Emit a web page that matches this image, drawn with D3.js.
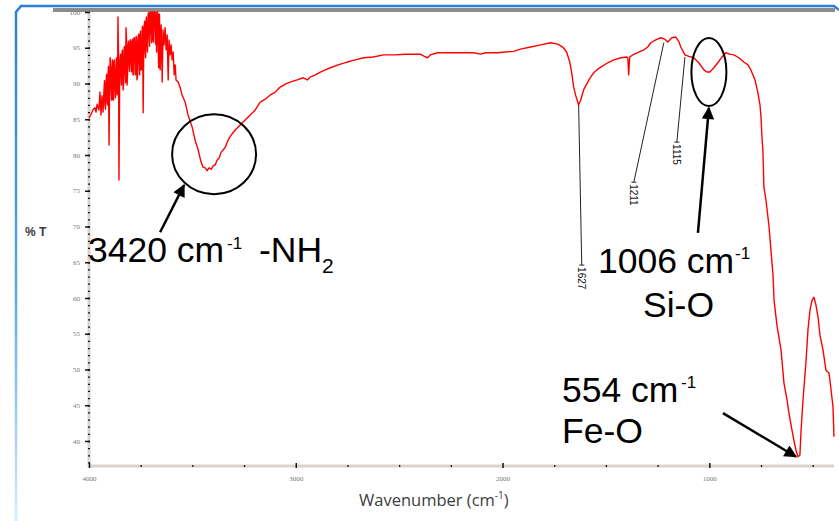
<!DOCTYPE html>
<html>
<head>
<meta charset="utf-8">
<script src="https://cdn.jsdelivr.net/npm/d3@7"></script>
<style>
  body { margin: 0; background: #fff; }
  svg { display: block; }
  .axis text { font-family: "Liberation Serif", serif; font-size: 7px; fill: #777; }
  .note { font-family: "Liberation Sans", Arial, sans-serif; fill: #000; }
</style>
</head>
<body>
<div id="chart"></div>
<script>
const W = 839, H = 521;

// FTIR scan: wavenumber (cm-1) and %T
const wavenumber = [
  4000, 3990, 3981, 3971, 3966, 3961, 3952, 3947, 3942, 3937,
  3932, 3927, 3925, 3923, 3920, 3918, 3915, 3913, 3910, 3908,
  3906, 3903, 3901, 3898, 3896, 3893, 3891, 3889, 3886, 3884,
  3881, 3879, 3877, 3874, 3872, 3869, 3867, 3864, 3862, 3860,
  3857, 3855, 3852, 3850, 3847, 3845, 3843, 3840, 3838, 3835,
  3833, 3830, 3828, 3826, 3823, 3821, 3818, 3816, 3814, 3811,
  3809, 3806, 3804, 3801, 3799, 3797, 3794, 3792, 3789, 3787,
  3784, 3782, 3780, 3777, 3775, 3772, 3770, 3768, 3765, 3763,
  3760, 3758, 3755, 3753, 3751, 3748, 3746, 3743, 3741, 3738,
  3736, 3734, 3731, 3729, 3726, 3724, 3722, 3719, 3717, 3714,
  3712, 3709, 3707, 3705, 3702, 3700, 3697, 3695, 3692, 3690,
  3688, 3685, 3683, 3680, 3678, 3676, 3673, 3671, 3668, 3666,
  3663, 3661, 3659, 3656, 3651, 3646, 3642, 3637, 3632, 3627,
  3622, 3617, 3613, 3608, 3603, 3598, 3593, 3588, 3583, 3579,
  3569, 3559, 3550, 3535, 3521, 3501,
  3487, 3472, 3458, 3448, 3438, 3429, 3419, 3409, 3399, 3390,
  3380, 3370, 3361, 3351, 3341, 3327, 3312, 3293, 3269, 3245,
  3220, 3196, 3172, 3148, 3123, 3099, 3075, 3051, 3027, 2993,
  2964, 2944, 2930, 2905, 2881, 2857, 2833, 2784, 2751, 2712,
  2673, 2625, 2576, 2518, 2470, 2431, 2397, 2378, 2363, 2349,
  2315, 2252, 2140, 2106, 2082, 2024, 1985, 1947, 1913, 1864,
  1816, 1767, 1733, 1709, 1690, 1675, 1666, 1656, 1646, 1632,
  1622, 1608, 1588, 1574, 1559, 1540, 1525, 1491, 1462, 1428,
  1399, 1394, 1390, 1385, 1370, 1341, 1317, 1298, 1283, 1259,
  1235, 1215, 1201, 1181, 1162, 1148, 1138, 1118, 1099, 1075,
  1051, 1026, 1012, 997, 978, 959, 939, 920, 901, 881,
  857, 833, 813, 799, 779, 765, 755, 750, 746, 741,
  736, 726, 712, 702, 692, 687, 673, 653, 639, 624,
  615, 600, 591, 581, 571, 562, 557, 547, 532, 523,
  513, 503, 494, 484, 474, 465, 450, 436, 421, 411,
  402, 397
];
const transmittance = [
  85.2, 85.7, 86.3, 86.6, 86.0, 87.1, 86.3, 88.8, 85.6, 88.3,
  86.0, 89.4, 90.4, 87.0, 86.4, 89.9, 91.3, 87.7, 87.0, 91.2,
  92.4, 81.4, 87.6, 93.6, 93.3, 89.1, 87.7, 91.9, 93.3, 87.7,
  87.7, 93.0, 93.3, 89.8, 88.0, 91.9, 93.6, 88.4, 88.8, 99.3,
  93.8, 76.5, 89.7, 93.3, 94.1, 91.2, 89.8, 94.4, 94.7, 89.1,
  89.8, 95.0, 95.2, 91.9, 90.1, 97.8, 95.7, 89.8, 90.9, 95.4,
  95.9, 92.6, 91.7, 96.1, 96.1, 93.3, 91.6, 95.8, 96.2, 91.2,
  91.3, 96.4, 96.4, 94.0, 91.2, 96.6, 96.5, 90.5, 91.2, 95.8,
  96.9, 93.3, 91.2, 96.8, 97.3, 91.9, 91.9, 97.5, 98.0, 85.9,
  92.7, 97.8, 98.7, 94.7, 93.6, 98.9, 99.3, 95.4, 94.4, 99.6,
  99.9, 96.8, 95.2, 100, 100, 97.5, 95.7, 100, 100, 96.1,
  95.8, 100, 100, 98.2, 95.5, 100, 94.4, 98.9, 100, 96.1,
  92.2, 99.7, 99.7, 91.9, 98.2, 90.2, 97.5, 95.4, 97.8, 94.7,
  96.8, 90.5, 96.1, 94.0, 95.4, 93.3, 94.4, 91.2, 92.6, 90.5,
  90.2, 89.4, 88.4, 87.4, 85.6, 83.9,
  82.1, 80.7, 79.0, 78.3, 78.2, 77.8, 78.2, 78.0, 78.5, 78.6,
  79.3, 79.6, 80.4, 80.7, 81.1, 82.1, 82.8, 83.5, 84.2, 84.9,
  85.6, 86.3, 87.4, 87.8, 88.4, 88.8, 89.5, 89.9, 90.2, 90.5,
  90.8, 90.5, 90.9, 91.2, 91.6, 91.9, 92.2, 92.7, 93.0, 93.3,
  93.6, 93.7, 94.0, 94.0, 94.1, 94.1, 94.1, 93.8, 93.6, 94.0,
  94.3, 94.3, 94.3, 94.1, 94.3, 94.3, 94.4, 94.5, 94.8, 95.1,
  95.4, 95.7, 95.5, 95.1, 94.4, 93.0, 91.6, 89.5, 88.3, 87.0,
  87.7, 89.1, 90.2, 90.9, 91.5, 92.0, 92.3, 92.9, 93.3, 93.6,
  93.7, 93.6, 91.2, 93.7, 94.0, 94.4, 94.7, 95.1, 95.7, 96.1,
  96.4, 96.2, 95.8, 96.4, 96.5, 95.9, 95.1, 94.0, 93.8, 93.6,
  92.9, 91.9, 91.6, 91.6, 92.2, 92.9, 93.7, 94.3, 94.1, 94.0,
  93.6, 93.0, 92.6, 91.9, 90.5, 88.7, 87.0, 85.3, 82.8, 80.7,
  75.5, 73.7, 70.2, 66.7, 63.2, 59.7, 56.2, 52.7, 48.1, 45.7,
  43.9, 41.5, 40.1, 38.7, 37.8, 38.0, 41.1, 45.7, 51.3, 55.5,
  58.3, 59.7, 60.1, 59.0, 57.3, 54.8, 52.7, 49.9, 49.5, 47.1,
  44.8, 40.6
];

const xTicks = [4000, 3000, 2000, 1000];
const xMinorTicks = [3750, 3500, 3250, 2750, 2500, 2250, 1750, 1500, 1250, 750, 500];
const yTicks = [100, 95, 90, 85, 80, 75, 70, 65, 60, 55, 50, 45, 40];

// instrument peak picks
const pickLabels = ["1627", "1211", "1115"];
// annotated bands
const bandWn = ["3420", "1006", "554"];
const bandGroup = ["-NH", "Si-O", "Fe-O"];

const x = d3.scaleLinear().domain([4000, 397]).range([89, 834]);
const y = d3.scaleLinear().domain([36.5, 100]).range([466, 12]);

const svg = d3.select("#chart").append("svg")
  .attr("width", W)
  .attr("height", H);

const defs = svg.append("defs");
const grad = defs.append("linearGradient")
  .attr("id", "frameFade")
  .attr("x1", 0).attr("y1", 0).attr("x2", 0).attr("y2", 1);
grad.append("stop").attr("offset", "0%").attr("stop-color", "#2b7fd6");
grad.append("stop").attr("offset", "55%").attr("stop-color", "#5aa6ee");
grad.append("stop").attr("offset", "100%").attr("stop-color", "#d6ebfd");

defs.append("marker")
  .attr("id", "head")
  .attr("viewBox", "0 0 10 10")
  .attr("refX", 9).attr("refY", 5)
  .attr("markerWidth", 6).attr("markerHeight", 5)
  .attr("markerUnits", "strokeWidth")
  .attr("orient", "auto")
  .append("path")
  .attr("d", "M0,0 L10,5 L0,10 Z")
  .attr("fill", "#000");

// slide frame
svg.append("path")
  .attr("d", "M16,521 L16,12 L21,6")
  .attr("fill", "none")
  .attr("stroke", "url(#frameFade)")
  .attr("stroke-width", 2.5);
svg.append("path")
  .attr("d", "M20,6 L834,6 L839,10")
  .attr("fill", "none")
  .attr("stroke", "#2b7fd6")
  .attr("stroke-width", 2.5);
svg.append("rect")
  .attr("x", 53).attr("y", 8).attr("width", 782).attr("height", 4)
  .attr("fill", "#8c8c8c");

// axis bands
svg.append("rect")
  .attr("x", 87.5).attr("y", 12).attr("width", 3).attr("height", 455)
  .attr("fill", "#d8d4cb");
svg.append("rect")
  .attr("x", 88).attr("y", 464.5).attr("width", 746).attr("height", 3)
  .attr("fill", "#d8d4cb");

// y axis
const yMinor = svg.append("g")
  .attr("transform", "translate(90,0)")
  .call(d3.axisLeft(y).tickValues(d3.range(37, 100, 1)).tickSize(2).tickFormat(""));
yMinor.select(".domain").remove();
yMinor.selectAll("line").attr("stroke", "#111").attr("stroke-width", 1.3);

const yAxis = svg.append("g")
  .attr("class", "axis")
  .attr("transform", "translate(90,0)")
  .call(d3.axisLeft(y).tickValues(yTicks).tickSize(5).tickPadding(5));
yAxis.select(".domain").remove();
yAxis.selectAll("line").attr("stroke", "#111").attr("stroke-width", 1.5);

// x axis
const xMinor = svg.append("g")
  .attr("transform", "translate(0,465)")
  .call(d3.axisBottom(x).tickValues(xMinorTicks).tickSize(2).tickFormat(""));
xMinor.select(".domain").remove();
xMinor.selectAll("line").attr("stroke", "#111").attr("stroke-width", 1.3);

const xAxis = svg.append("g")
  .attr("class", "axis")
  .attr("transform", "translate(0,463)")
  .call(d3.axisBottom(x).tickValues(xTicks).tickSize(5).tickPadding(8).tickFormat(d3.format("d")));
xAxis.select(".domain").remove();
xAxis.selectAll("line").attr("stroke", "#111").attr("stroke-width", 1.5);

// axis titles
svg.append("text")
  .attr("x", 25).attr("y", 236)
  .attr("font-family", "Liberation Sans, Arial, sans-serif")
  .attr("font-size", 12)
  .attr("font-weight", "bold")
  .attr("fill", "#3a3a3a")
  .text("% T");

const xTitle = svg.append("text")
  .attr("x", 359).attr("y", 506)
  .attr("font-family", "Open Sans, sans-serif")
  .attr("font-size", 16.5)
  .attr("fill", "#3d3d3d");
xTitle.append("tspan").text("Wavenumber (cm");
xTitle.append("tspan").attr("font-size", 10).attr("dy", -7).text("-1");
xTitle.append("tspan").attr("dy", 7).text(")");

// spectrum
const spectrum = wavenumber.map((w, i) => ({ w: w, t: transmittance[i] }));
const line = d3.line()
  .x(d => x(d.w))
  .y(d => y(d.t));

svg.append("path")
  .datum(spectrum)
  .attr("d", line)
  .attr("fill", "none")
  .attr("stroke", "#ff0000")
  .attr("stroke-width", 1.4)
  .attr("stroke-linejoin", "round");

// peak pick leader lines (start on the trace, end at the label)
const pickLayout = [
  { from: [1632, 87.0], to: [1617, 64.6] },
  { from: [1220, 95.7], to: [1365, 76.2] },
  { from: [1118, 93.7], to: [1157, 81.8] }
];
pickLayout.forEach((p, i) => {
  const x1 = x(p.from[0]), y1 = y(p.from[1]);
  const x2 = x(p.to[0]), y2 = y(p.to[1]);
  svg.append("line")
    .attr("x1", x1).attr("y1", y1).attr("x2", x2).attr("y2", y2)
    .attr("stroke", "#222").attr("stroke-width", 1);
  svg.append("line")
    .attr("x1", x2 - 2.5).attr("y1", y2).attr("x2", x2 + 2.5).attr("y2", y2)
    .attr("stroke", "#222").attr("stroke-width", 1);
  svg.append("text")
    .attr("transform", `translate(${x2},${y2 + 2}) rotate(90)`)
    .attr("dy", "0.35em")
    .attr("font-family", "Liberation Sans, Arial, sans-serif")
    .attr("font-size", 10)
    .attr("fill", "#111")
    .text(pickLabels[i]);
});

// band annotations: rings + arrows
const rings = [
  { c: [3395, 80.1], rx: 42, ry: 40 },
  { c: [1002, 91.6], rx: 17.5, ry: 34 }
];
rings.forEach(r => {
  svg.append("ellipse")
    .attr("cx", x(r.c[0])).attr("cy", y(r.c[1]))
    .attr("rx", r.rx).attr("ry", r.ry)
    .attr("fill", "none")
    .attr("stroke", "#000")
    .attr("stroke-width", 2);
});

const arrows = [
  { from: [3656, 69.2], to: [3540, 75.8] },
  { from: [1055, 69.1], to: [1002, 86.6] },
  { from: [934, 43.9], to: [581, 37.8] }
];
arrows.forEach(a => {
  svg.append("line")
    .attr("x1", x(a.from[0])).attr("y1", y(a.from[1]))
    .attr("x2", x(a.to[0])).attr("y2", y(a.to[1]))
    .attr("stroke", "#000")
    .attr("stroke-width", 2.5)
    .attr("marker-end", "url(#head)");
});

// band labels
const note = (xx, yy) => svg.append("text").attr("class", "note")
  .attr("x", xx).attr("y", yy).attr("font-size", 35.5);

const n1 = note(88, 262);
n1.append("tspan").text(bandWn[0] + " cm");
n1.append("tspan").attr("x", 227).attr("font-size", 17).attr("dy", -13).text("-1");
n1.append("tspan").attr("x", 259).attr("dy", 13).text(bandGroup[0]);
n1.append("tspan").attr("font-size", 21).attr("dy", 11).text("2");

const n2 = note(598, 273);
n2.append("tspan").text(bandWn[1] + " cm");
n2.append("tspan").attr("x", 735).attr("font-size", 17).attr("dy", -14).text("-1");
note(643, 317).text(bandGroup[1]);

const n3 = note(562, 402);
n3.append("tspan").text(bandWn[2] + " cm");
n3.append("tspan").attr("x", 681).attr("font-size", 17).attr("dy", -14).text("-1");
note(562, 443).text(bandGroup[2]);
</script>
</body>
</html>
